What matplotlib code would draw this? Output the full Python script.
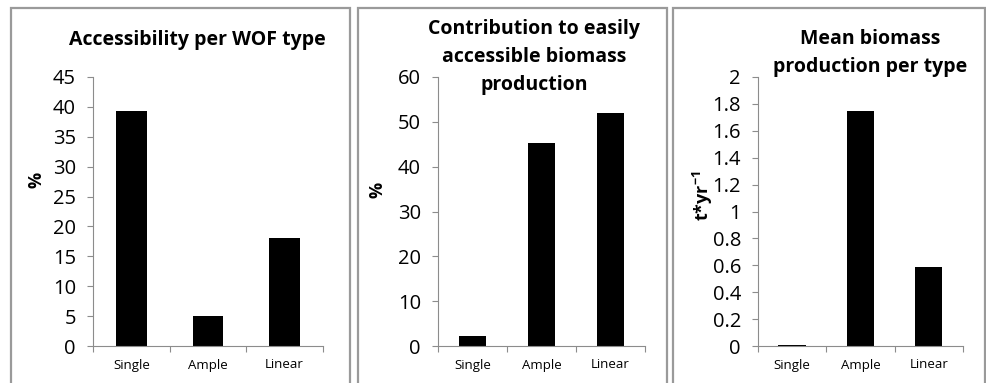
import matplotlib.pyplot as plt
from matplotlib.patches import Rectangle

plt.rcParams['font.family'] = ['Open Sans', 'DejaVu Sans']
plt.rcParams['mathtext.fontset'] = 'custom'
plt.rcParams['mathtext.rm'] = 'Open Sans:bold'
plt.rcParams['mathtext.bf'] = 'Open Sans:bold'

categories = ["Single", "Ample", "Linear"]
accessibility = [39.3, 5.1, 18.0]
contribution = [2.2, 45.3, 52.0]
mean_biomass = [0.01, 1.75, 0.587]

W, H = 987, 383
fig = plt.figure(figsize=(W / 100, H / 100), dpi=100)

# grey frames round each panel (pixel coords, y from top)
frames = [(11, 8, 350), (358, 8, 667), (673, 8, 985)]
for x0, y0, x1 in frames:
    fig.patches.append(Rectangle((x0 / W, -0.05), (x1 - x0) / W, 1.05 - y0 / H,
                                 transform=fig.transFigure, fill=False,
                                 edgecolor='#9a9a9a', linewidth=1.6))

panels = [
    dict(vals=accessibility, x0=93, x1=323, ymax=45, step=5,
         ylabel='%', ylab_x=37, ylab_y=180, title="Accessibility per WOF type",
         title_x=197, title_y=40),
    dict(vals=contribution, x0=438, x1=645, ymax=60, step=10,
         ylabel='%', ylab_x=378, ylab_y=190, title="Contribution to easily\naccessible biomass\nproduction",
         title_x=534, title_y=57),
    dict(vals=mean_biomass, x0=758, x1=963, ymax=2, step=0.2,
         ylabel='t*yr$^{-1}$', ylab_x=703, ylab_y=196, title="Mean biomass\nproduction per type",
         title_x=870, title_y=53),
]

y_bot, y_top = 346, 77
for p in panels:
    ax = fig.add_axes([p['x0'] / W, (H - y_bot) / H, (p['x1'] - p['x0']) / W, (y_bot - y_top) / H])
    ax.bar(range(3), p['vals'], width=0.4, color='black')
    ax.set_xlim(-0.5, 2.5)
    ax.set_ylim(0, p['ymax'])
    n = int(round(p['ymax'] / p['step']))
    ticks = [i * p['step'] for i in range(n + 1)]
    ax.set_yticks(ticks)
    ax.set_yticklabels(['{:g}'.format(round(t, 1)) for t in ticks], fontsize=14.5)
    ax.set_xticks([-0.5, 0.5, 1.5, 2.5])
    ax.set_xticklabels([])
    ax.set_xticks(range(3), minor=True)
    ax.set_xticklabels(categories, minor=True, fontsize=9.5)
    ax.tick_params(axis='x', which='minor', length=0, pad=9)
    ax.tick_params(axis='x', which='major', length=4, color='#8c8c8c', direction='out')
    ax.tick_params(axis='y', length=4.3, color='#8c8c8c', direction='out', pad=8)
    for s in ['top', 'right']:
        ax.spines[s].set_visible(False)
    for s in ['left', 'bottom']:
        ax.spines[s].set_color('#8c8c8c')
        ax.spines[s].set_linewidth(0.8)
    fig.text(p['ylab_x'] / W, 1 - p['ylab_y'] / H, p['ylabel'], rotation=90, ha='center', va='center',
             fontsize=13, fontweight='bold')
    fig.text(p['title_x'] / W, 1 - p['title_y'] / H, p['title'], ha='center', va='center',
             fontsize=14, fontweight='bold', linespacing=1.55)

fig.savefig('out.png', dpi=100)
